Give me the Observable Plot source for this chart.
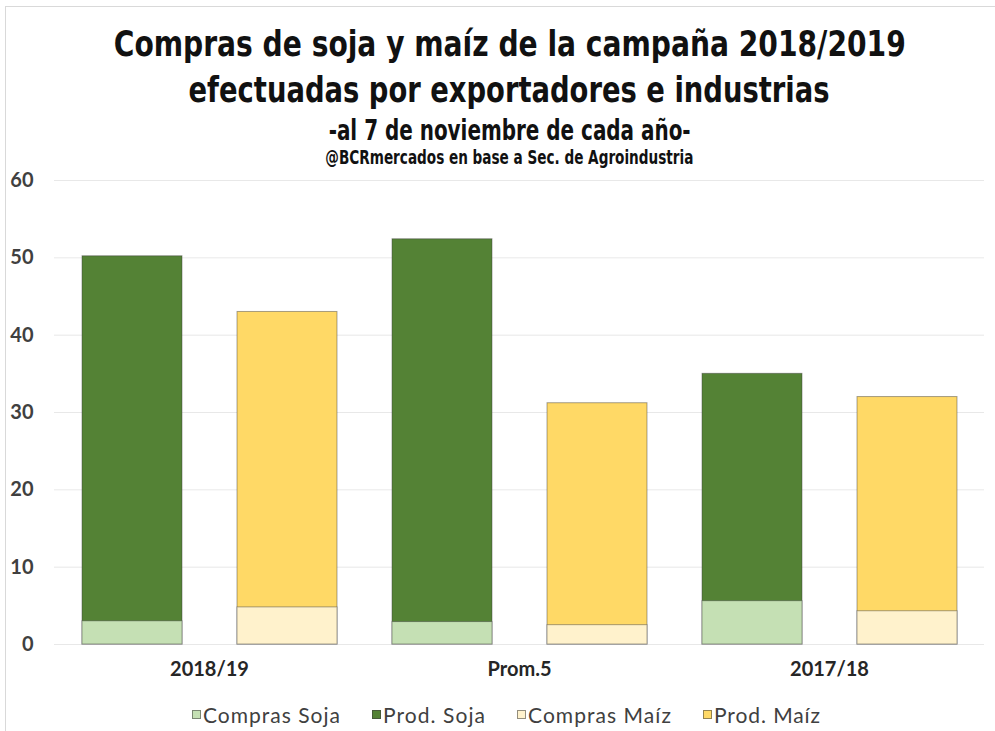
<!DOCTYPE html>
<html>
<head>
<meta charset="utf-8">
<script src="https://cdn.jsdelivr.net/npm/d3@7"></script>
<script src="https://cdn.jsdelivr.net/npm/@observablehq/plot@0.6"></script>
<style>
  html, body { margin: 0; padding: 0; background: #fff; }
  #frame { position: relative; width: 995px; height: 731px; overflow: hidden; }
  #frame::before { content: ""; position: absolute; left: 5px; top: 6px; right: 0; bottom: 0;
    border-left: 1px solid #d9d9d9; border-top: 1px solid #d9d9d9; }
  .tl { position: absolute; left: 12px; width: 995px; text-align: center; white-space: nowrap;
    font-family: "DejaVu Sans Condensed", "DejaVu Sans", sans-serif; font-weight: bold; color: #111; line-height: 1; }
  .tl span { display: inline-block; transform-origin: center center; }
  #chart { position: absolute; left: 0; top: 160px; }
  #legend { position: absolute; left: 0; top: 702px; width: 995px; display: flex; justify-content: center; gap: 31px;
    padding-left: 18px; box-sizing: border-box;
    font-family: Lato, "Open Sans", sans-serif; font-size: 21px; color: #404040; }
  #legend .it { display: flex; align-items: center; gap: 2px; }
  #legend .sw { width: 9px; height: 9px; box-sizing: border-box; border: 1px solid rgba(60,60,60,0.55); }
  #legend span { white-space: nowrap; }
</style>
</head>
<body>
<div id="frame">
  <div class="tl" style="top:26px;font-size:36px"><span data-w="792">Compras de soja y maíz de la campaña 2018/2019</span></div>
  <div class="tl" style="top:72px;font-size:36px"><span data-w="641">efectuadas por exportadores e industrias</span></div>
  <div class="tl" style="top:117px;font-size:28px"><span data-w="362">-al 7 de noviembre de cada año-</span></div>
  <div class="tl" style="top:148px;font-size:19px"><span data-w="368">@BCRmercados en base a Sec. de Agroindustria</span></div>
  <div id="chart"></div>
  <div id="legend"></div>
</div>
<script>
const groups = ["2018/19", "Prom.5", "2017/18"];
const crops = ["Soja", "Maíz"];
const seriesNames = ["Compras Soja", "Prod. Soja", "Compras Maíz", "Prod. Maíz"];
const seriesColors = ["#c5e0b4", "#548235", "#fff2cc", "#ffd966"];
const comprasSoja = [3.0, 2.9, 5.6];
const prodSoja = [50.2, 52.4, 35.0];
const comprasMaiz = [4.8, 2.5, 4.3];
const prodMaiz = [43.0, 31.2, 32.0];
const yTicks = [0, 10, 20, 30, 40, 50, 60];

const prodRows = [], comprasRows = [];
groups.forEach((g, i) => {
  prodRows.push({group: g, crop: "Soja", serie: "Prod. Soja", value: prodSoja[i]});
  prodRows.push({group: g, crop: "Maíz", serie: "Prod. Maíz", value: prodMaiz[i]});
  comprasRows.push({group: g, crop: "Soja", serie: "Compras Soja", value: comprasSoja[i]});
  comprasRows.push({group: g, crop: "Maíz", serie: "Compras Maíz", value: comprasMaiz[i]});
});

const barOpts = {fx: "group", x: "crop", y1: 0, y2: "value", fill: "serie",
  stroke: "#3a3a3a", strokeOpacity: 0.45, strokeWidth: 1};

const plot = Plot.plot({
  width: 995,
  height: 530,
  marginTop: 20,
  marginBottom: 46,
  marginLeft: 54,
  marginRight: 11,
  style: {fontFamily: "Lato, 'Open Sans', sans-serif", background: "transparent"},
  fx: {domain: groups, padding: 0, label: null},
  x: {domain: crops, paddingInner: 0.355, paddingOuter: 0.1775, axis: null},
  y: {domain: [0, 60], label: null},
  color: {domain: seriesNames, range: seriesColors},
  marks: [
    Plot.gridY(yTicks, {stroke: "#d9d9d9", strokeOpacity: 0.6}),
    Plot.axisY(yTicks, {anchor: "left", tickSize: 0, tickPadding: 21, label: null,
      fontSize: 20, fontWeight: "bold", fill: "#404040"}),
    Plot.axisFx({anchor: "bottom", tickSize: 0, tickPadding: 17, label: null,
      fontSize: 20, fontWeight: "bold", fill: "#262626"}),
    Plot.barY(prodRows, barOpts),
    Plot.barY(comprasRows, barOpts)
  ]
});
document.getElementById("chart").appendChild(plot);

const legendTextWidths = [138, 103, 144, 107];
const legend = document.getElementById("legend");
seriesNames.forEach((n, i) => {
  const it = document.createElement("div");
  it.className = "it";
  const sw = document.createElement("div");
  sw.className = "sw";
  sw.style.background = seriesColors[i];
  const tx = document.createElement("span");
  tx.textContent = n;
  it.appendChild(sw); it.appendChild(tx);
  legend.appendChild(it);
  const w = tx.getBoundingClientRect().width;
  tx.style.letterSpacing = ((legendTextWidths[i] - w) / n.length) + "px";
});

document.querySelectorAll(".tl span").forEach(s => {
  const w = s.getBoundingClientRect().width;
  const target = +s.dataset.w;
  s.style.transform = `scaleX(${target / w})`;
});
</script>
</body>
</html>
